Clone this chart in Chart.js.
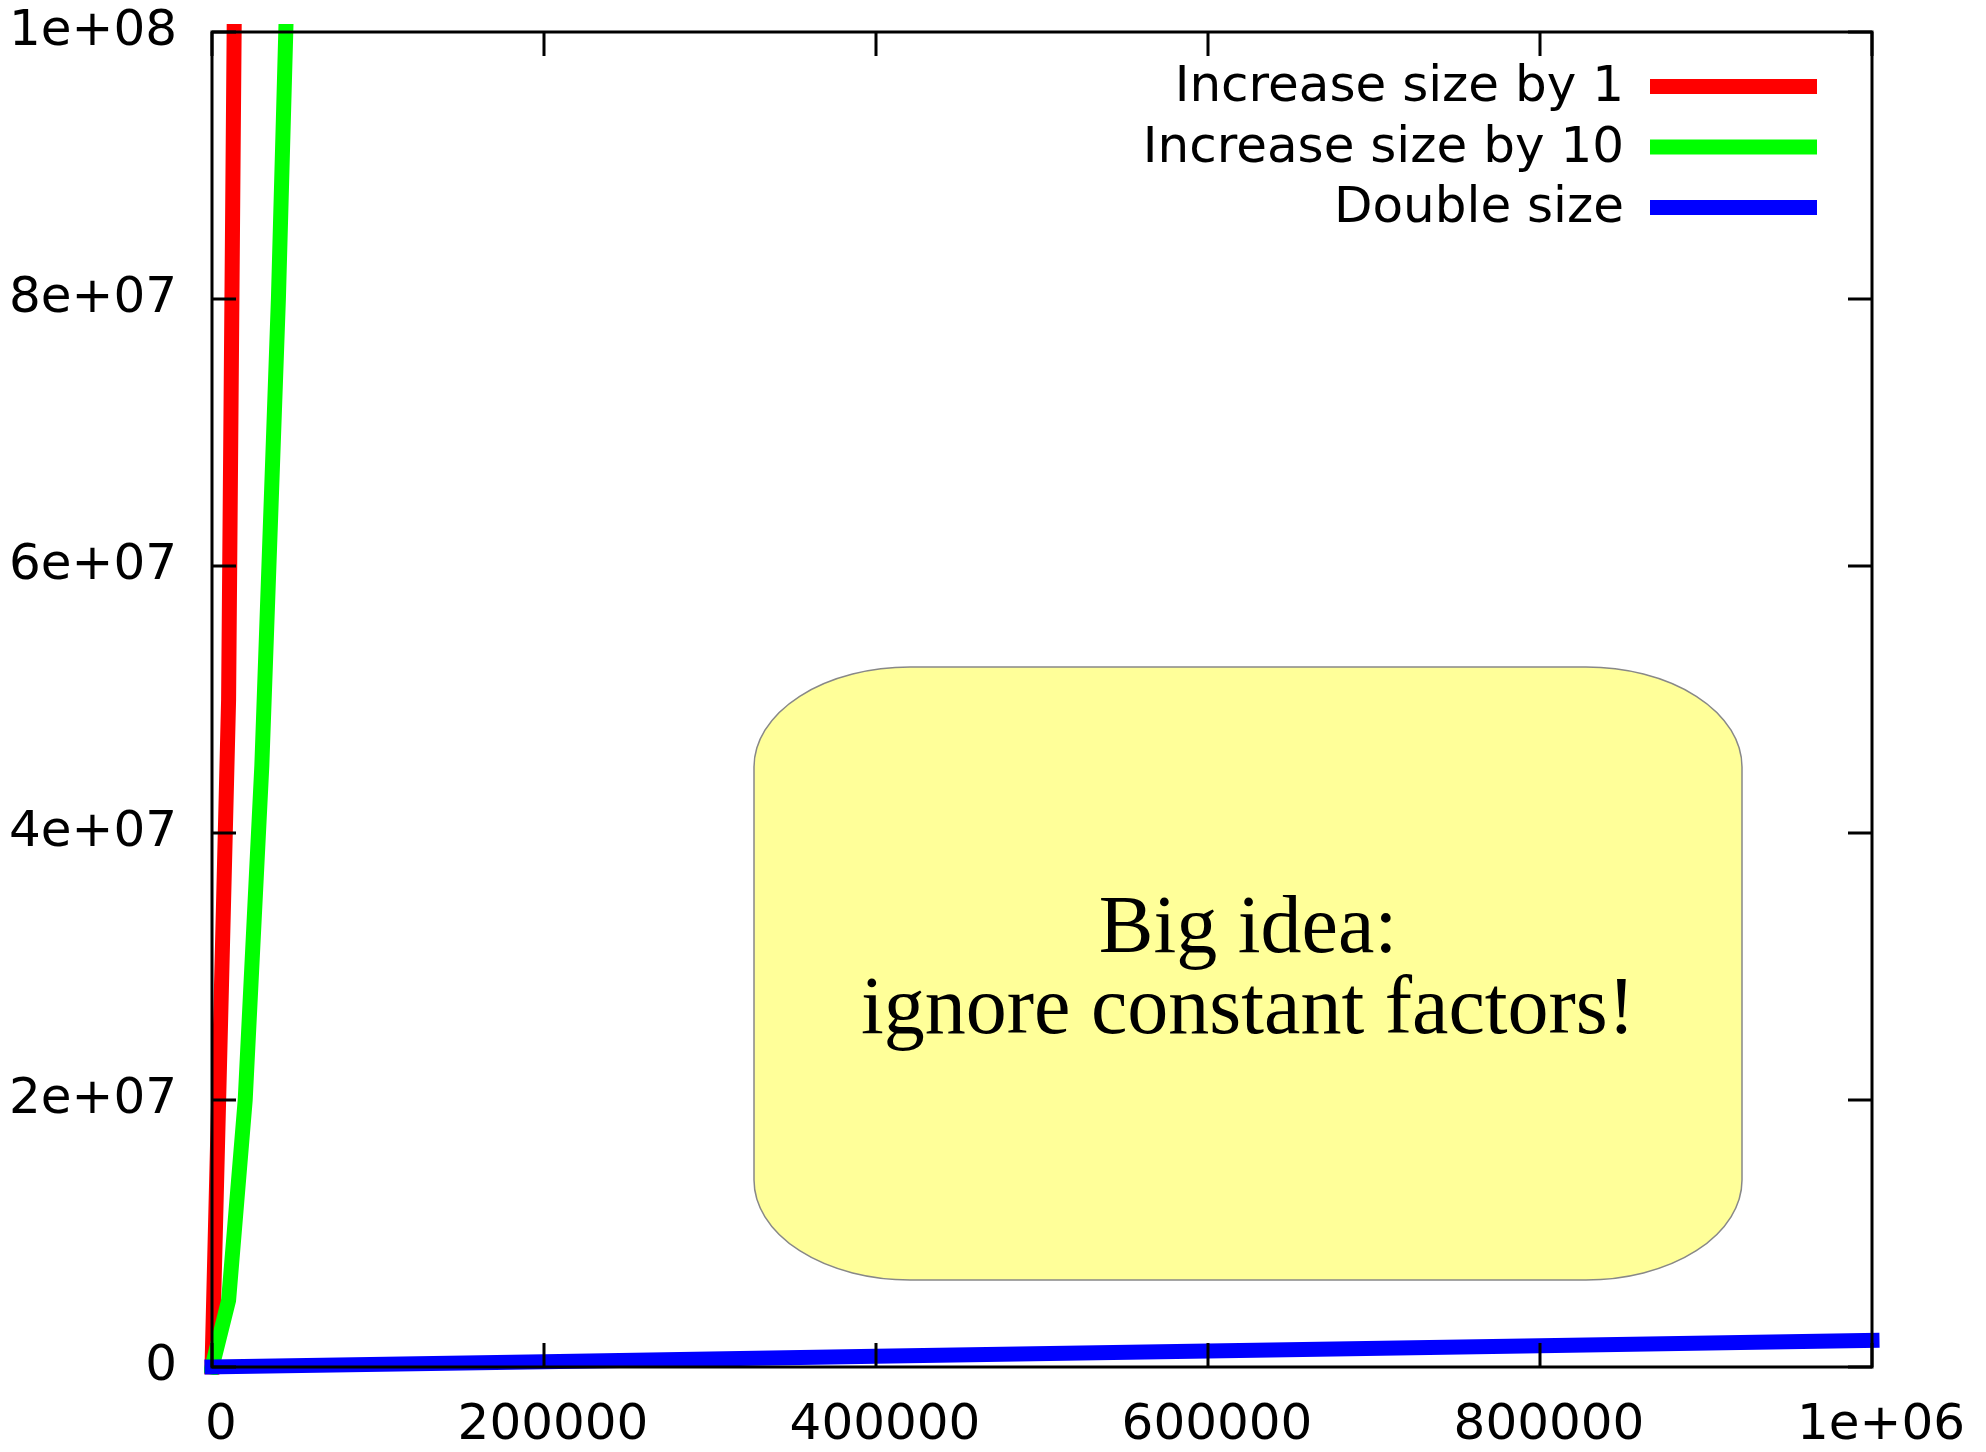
<!DOCTYPE html>
<html>
<head>
<meta charset="utf-8">
<title>Increase size vs double size</title>
<script src="https://cdn.jsdelivr.net/npm/chart.js@4.4.1/dist/chart.umd.min.js"></script>
<style>
  html, body { margin: 0; padding: 0; background: #fff; }
  canvas { display: block; }
</style>
</head>
<body>
<canvas id="growthChart" width="1986" height="1452"></canvas>
<script>
// elements inserted (x) and total copy cost (y)
const sizesByTen = [0, 10000, 20000, 30000, 40000, 50000];
const increaseBy1 = [0, 5.0e7, 2.0e8, 4.5e8, 8.0e8, 1.25e9];
const increaseBy10 = [0, 5.0e6, 2.0e7, 4.5e7, 8.0e7, 1.25e8];
const doubleSizes = [0, 200000, 400000, 600000, 800000, 1000000];
const doubleCost = [0, 4.0e5, 8.0e5, 1.2e6, 1.6e6, 2.0e6];

const seriesLabels = ['Increase size by 1', 'Increase size by 10', 'Double size'];
const xTickLabels = ['0', '200000', '400000', '600000', '800000', '1e+06'];
const yTickLabels = ['0', '2e+07', '4e+07', '6e+07', '8e+07', '1e+08'];
const noteLines = ['Big idea:', 'ignore constant factors!'];

const tickFont = { family: 'DejaVu Sans', size: 50 };

function toPoints(xs, ys) {
    return xs.map((x, i) => ({ x: x, y: ys[i] }));
}

// gnuplot style frame: border + inner ticks on all four sides
const framePlugin = {
    id: 'frame',
    afterDatasetsDraw(chart) {
        const ctx = chart.ctx;
        const a = chart.chartArea;
        const xs = chart.scales.x;
        const ys = chart.scales.y;
        const tickLen = 24;
        ctx.save();
        ctx.strokeStyle = '#000';
        ctx.lineWidth = 3;
        ctx.beginPath();
        xs.ticks.forEach(t => {
            const px = Math.round(xs.getPixelForValue(t.value));
            ctx.moveTo(px, a.bottom); ctx.lineTo(px, a.bottom - tickLen);
            ctx.moveTo(px, a.top); ctx.lineTo(px, a.top + tickLen);
        });
        ys.ticks.forEach(t => {
            const py = Math.round(ys.getPixelForValue(t.value));
            ctx.moveTo(a.left, py); ctx.lineTo(a.left + tickLen, py);
            ctx.moveTo(a.right, py); ctx.lineTo(a.right - tickLen, py);
        });
        ctx.stroke();
        ctx.strokeRect(a.left, a.top, a.right - a.left, a.bottom - a.top);
        ctx.restore();
    }
};

// yellow note box with the text
const notePlugin = {
    id: 'note',
    afterDatasetsDraw(chart) {
        const ctx = chart.ctx;
        const l = 754, r = 1742, t = 667, b = 1280;
        const rx = 156, ry = 100;
        ctx.save();
        ctx.beginPath();
        ctx.moveTo(l + rx, t);
        ctx.lineTo(r - rx, t);
        ctx.ellipse(r - rx, t + ry, rx, ry, 0, -Math.PI / 2, 0);
        ctx.lineTo(r, b - ry);
        ctx.ellipse(r - rx, b - ry, rx, ry, 0, 0, Math.PI / 2);
        ctx.lineTo(l + rx, b);
        ctx.ellipse(l + rx, b - ry, rx, ry, 0, Math.PI / 2, Math.PI);
        ctx.lineTo(l, t + ry);
        ctx.ellipse(l + rx, t + ry, rx, ry, 0, Math.PI, Math.PI * 1.5);
        ctx.closePath();
        ctx.fillStyle = '#ffff99';
        ctx.fill();
        ctx.strokeStyle = '#888';
        ctx.lineWidth = 1.5;
        ctx.stroke();

        ctx.fillStyle = '#000';
        ctx.font = '82px "Liberation Serif"';
        ctx.textAlign = 'center';
        ctx.textBaseline = 'alphabetic';
        noteLines.forEach((line, i) => {
            ctx.fillText(line, (l + r) / 2, 952 + i * 81);
        });
        ctx.restore();
    }
};

// legend inside the top right corner, text left of the sample line
const legendPlugin = {
    id: 'insideLegend',
    afterDatasetsDraw(chart) {
        const ctx = chart.ctx;
        const a = chart.chartArea;
        ctx.save();
        ctx.font = '50px "DejaVu Sans"';
        ctx.textAlign = 'right';
        ctx.textBaseline = 'middle';
        chart.data.datasets.forEach((ds, i) => {
            const y = a.top + 54.5 + i * 60.5;
            ctx.fillStyle = '#000';
            ctx.fillText(ds.label, a.right - 248, y + 2);
            ctx.strokeStyle = ds.borderColor;
            ctx.lineWidth = 15;
            ctx.beginPath();
            ctx.moveTo(a.right - 222, y);
            ctx.lineTo(a.right - 55, y);
            ctx.stroke();
        });
        ctx.restore();
    }
};

const lineClip = { left: 8, top: 8, right: 10, bottom: 8 };

new Chart(document.getElementById('growthChart'), {
    type: 'line',
    data: {
        datasets: [
            {
                label: seriesLabels[0],
                data: toPoints(sizesByTen, increaseBy1),
                borderColor: '#ff0000',
                borderWidth: 15,
                borderCapStyle: 'square',
                clip: lineClip,
                order: 2,
                pointRadius: 0,
                tension: 0,
                fill: false
            },
            {
                label: seriesLabels[1],
                data: toPoints(sizesByTen, increaseBy10),
                borderColor: '#00ff00',
                borderWidth: 15,
                borderCapStyle: 'square',
                clip: lineClip,
                order: 1,
                pointRadius: 0,
                tension: 0,
                fill: false
            },
            {
                label: seriesLabels[2],
                data: toPoints(doubleSizes, doubleCost),
                borderColor: '#0000ff',
                borderWidth: 15,
                borderCapStyle: 'square',
                clip: lineClip,
                order: 0,
                pointRadius: 0,
                tension: 0,
                fill: false
            }
        ]
    },
    options: {
        responsive: false,
        animation: false,
        devicePixelRatio: 1,
        layout: { padding: { top: 32, right: 114, left: 0, bottom: 0 } },
        plugins: {
            legend: { display: false },
            tooltip: { enabled: false }
        },
        scales: {
            x: {
                type: 'linear',
                min: 0,
                max: 1000000,
                grid: { display: false, drawTicks: false },
                border: { display: false },
                ticks: {
                    stepSize: 200000,
                    color: '#000',
                    font: tickFont,
                    padding: 29,
                    labelOffset: 9,
                    maxRotation: 0,
                    autoSkip: false,
                    callback: (value, index) => xTickLabels[index]
                },
                afterFit: (scale) => {
                    scale.height = 85;
                    scale.paddingLeft = 0;
                    scale.paddingRight = 0;
                }
            },
            y: {
                type: 'linear',
                min: 0,
                max: 100000000,
                grid: { display: false, drawTicks: false },
                border: { display: false },
                ticks: {
                    stepSize: 20000000,
                    color: '#000',
                    font: tickFont,
                    padding: 35,
                    autoSkip: false,
                    callback: (value, index) => yTickLabels[index]
                },
                afterFit: (scale) => {
                    scale.width = 212;
                    scale.paddingTop = 0;
                    scale.paddingBottom = 0;
                }
            }
        }
    },
    plugins: [notePlugin, framePlugin, legendPlugin]
});
</script>
</body>
</html>
